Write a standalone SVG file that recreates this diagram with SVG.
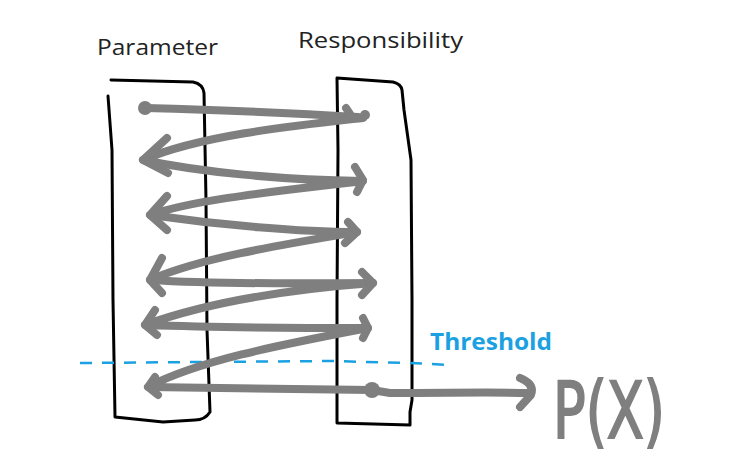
<svg xmlns="http://www.w3.org/2000/svg" width="731" height="460" viewBox="0 0 731 460">
<style>
.lbl{font-family:"Open Sans","Liberation Sans",sans-serif;font-size:21px;fill:#222}
.box{fill:none;stroke:#000;stroke-width:3;stroke-linecap:round;stroke-linejoin:round}
.ink{fill:none;stroke:#7f7f7f;stroke-width:8;stroke-linecap:round;stroke-linejoin:round}
.dot{fill:#7f7f7f}
.thr{fill:none;stroke:#1ba1e2;stroke-width:2.5;stroke-dasharray:12 10}
</style>
<rect width="731" height="460" fill="#fff"/>
<g id="parameter">
<path class="box" d="M111,80 L193,82 Q203,84 204,93 L206,200 L207,330 L210,412 Q205,420 195,420 L163,422 L115,417 L113,300 L112,150 L108,96"/>
<text class="lbl" x="97" y="55" textLength="121" lengthAdjust="spacingAndGlyphs">Parameter</text>
</g>
<g id="responsibility">
<path class="box" d="M337,78 L393,82 Q401,84 402,90 L404,110 L411,160 L412,300 L412,400 L410,412 L410,425 L337,423 L337,300 L338,150 L337,78"/>
<text class="lbl" x="298" y="48" textLength="165" lengthAdjust="spacingAndGlyphs">Responsibility</text>
</g>
<g id="threshold">
<path class="thr" d="M80,363 L200,362 L330,361 L410,363 L450,365"/>
<text x="430" y="350" textLength="122" lengthAdjust="spacingAndGlyphs" style="font-family:'Open Sans','Liberation Sans',sans-serif;font-weight:bold;font-size:23px;fill:#1ba1e2">Threshold</text>
</g>
<g id="px">
<text x="553" y="438" textLength="112" lengthAdjust="spacingAndGlyphs" style="font-family:'Liberation Sans Narrow','DejaVu Sans Condensed','Liberation Sans',sans-serif;font-size:78px;fill:#7f7f7f;stroke:#7f7f7f;stroke-width:2">P(X)</text>
</g>
<g id="connectors">
<path class="ink" d="M145,108 C220,110 280,112 358,117"/>
<path class="ink" d="M363,118 C300,125 200,135 143,160 C200,172 280,180 363,181 C290,190 200,198 150,215 C220,225 300,232 357,232 C280,245 200,258 150,280 C230,285 320,283 373,283 C280,290 200,305 145,325 C230,328 300,328 368,328 C280,345 200,360 148,387 L372,390 L390,393 C450,393 490,392 530,393"/>
<path class="ink" d="M346,108 L352,117 M167,138 L143,160 L168,173 M355,167 L363,180 L357,192 M167,196 L150,215 L167,230 M348,222 L357,232 L345,243 M162,258 L150,280 L162,293 M362,272 L373,283 L362,295 M155,310 L145,325 L157,335 M363,318 L368,328 L363,338 M155,377 L148,387 L158,395 M520,378 Q535,384 531,395 L520,407"/>
<circle class="dot" cx="145" cy="108" r="7"/>
<circle class="dot" cx="365" cy="115" r="5"/>
<circle class="dot" cx="372" cy="390" r="8"/>
</g>
</svg>
